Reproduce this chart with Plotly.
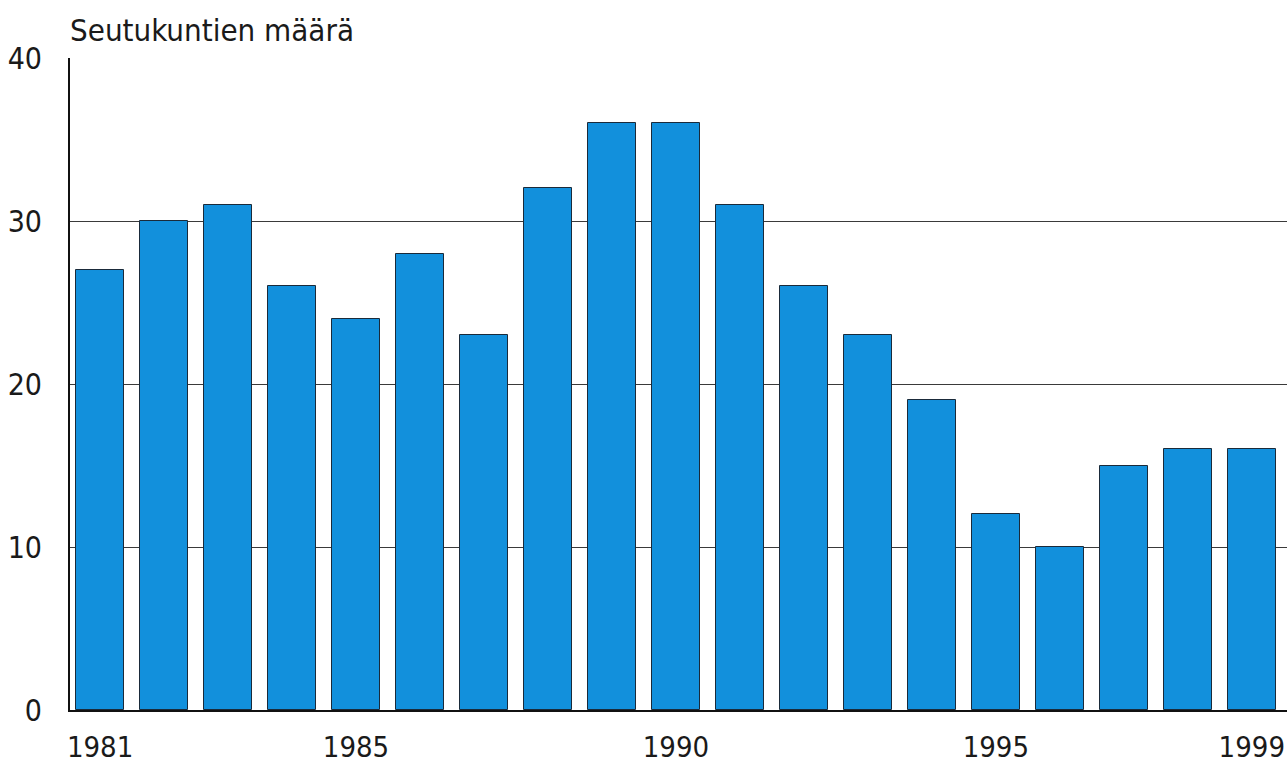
import plotly.graph_objects as go

years = list(range(1981, 2000))
counts = [27, 30, 31, 26, 24, 28, 23, 32, 36, 36, 31, 26, 23, 19, 12, 10, 15, 16, 16]
x_ticks = [1981, 1985, 1990, 1995, 1999]
y_ticks = [0, 10, 20, 30, 40]
title_text = "Seutukuntien määrä"

FONT = "DejaVu Sans Condensed, Liberation Sans Narrow, sans-serif"

fig = go.Figure()
fig.add_trace(go.Bar(
    x=years, y=counts, width=0.75,
    marker=dict(color="#1290dc", line=dict(color="#1a2a3a", width=1)),
))

fig.update_layout(
    width=1287, height=765,
    margin=dict(l=70, r=0, t=58, b=55, autoexpand=False),
    plot_bgcolor="white", paper_bgcolor="white",
    showlegend=False,
    font=dict(family=FONT, size=30, color="#1a1a1a"),
    bargap=0,
)
fig.update_xaxes(
    range=[1980.53, 1999.55], tickvals=x_ticks, ticktext=[str(v) for v in x_ticks],
    showgrid=False, showline=True, linecolor="#111", linewidth=2,
    ticks="", ticklabelstandoff=10, zeroline=False, automargin=False,
    tickfont=dict(size=29),
)
fig.update_yaxes(
    range=[0, 40], tickvals=y_ticks, showgrid=True, gridcolor="#3a3a3a", gridwidth=1.3,
    showline=True, linecolor="#111", linewidth=2, ticks="",
    ticklabelstandoff=20, zeroline=False, automargin=False,
)
fig.add_annotation(
    text=title_text, xref="paper", yref="paper", x=0, y=1, xanchor="left", yanchor="bottom",
    xshift=-2, yshift=8, showarrow=False, font=dict(family=FONT, size=31, color="#1a1a1a"),
)
fig.write_html(
    "out.html",
    config={"displayModeBar": False},
    post_script="document.body.style.margin='0';document.body.style.overflow='hidden';",
)
